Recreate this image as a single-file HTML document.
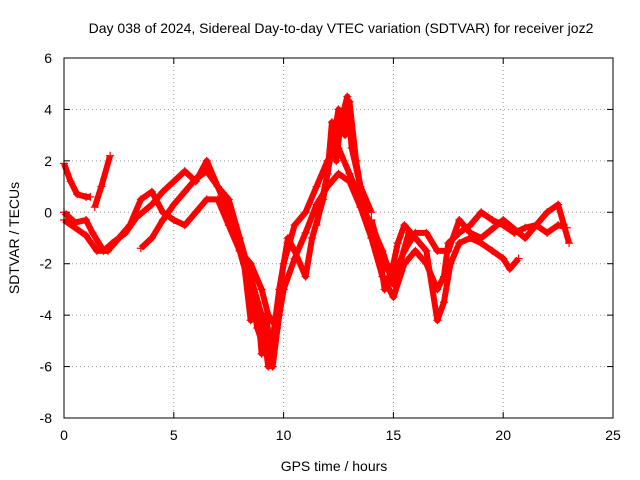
<!DOCTYPE html>
<html><head><meta charset="utf-8"><style>
body{margin:0;background:#fff;}
svg{display:block;font-family:"Liberation Sans",sans-serif;}
</style></head><body>
<svg id="chart" width="640" height="480">
<text x="341" y="33" font-size="14" text-anchor="middle">Day 038 of 2024, Sidereal Day-to-day VTEC variation (SDTVAR) for receiver joz2</text>
<text x="334" y="471" font-size="14" text-anchor="middle">GPS time / hours</text>
<text transform="translate(19,238) rotate(-90)" font-size="14" text-anchor="middle">SDTVAR / TECUs</text>
<g id="grid"></g>
<g id="ticks"></g>
<g id="series"></g>
<rect x="64" y="58" width="549" height="360" fill="none" stroke="#000" stroke-width="1"/>
</svg>
<script>
const xTicks=[0,5,10,15,20,25];
const yTicks=[-8,-6,-4,-2,0,2,4,6];
const trackA=[[0,1.9],[0.3,1.2],[0.6,0.7],[1.0,0.6],[1.2,0.6]];
const trackB=[[1.4,0.2],[1.7,1.0],[2.1,2.2]];
const trackC=[[0,0],[0.5,-0.4],[1,-0.3],[1.3,-0.8],[1.8,-1.5],[2.2,-1.2],[2.8,-0.8],[3.3,-0.2],[4,0.3],[4.5,0.8],[5,1.2],[5.5,1.6],[6,1.2],[6.5,2.0],[7,1.0],[7.5,0.5],[8,-1],[8.5,-2.5],[9,-4],[9.3,-6],[9.6,-4.5],[10,-2],[10.5,-0.5],[11,0],[11.5,1],[12,2],[12.5,2.5],[13,1.5],[13.5,0.5],[14,-1],[14.5,-2.5],[15,-3.3],[15.5,-2],[16,-1.5],[16.5,-2],[17,-3],[17.3,-2.5],[17.5,-1.2],[18,-0.8],[18.5,-0.5],[19,0],[19.5,-0.3],[20,-0.5],[20.5,-0.8],[21,-0.6],[21.5,-0.5],[22,-0.8],[22.5,-0.5],[22.9,-0.6]];
const trackD=[[0,-0.3],[1,-0.9],[1.5,-1.5],[2,-1.5],[2.5,-1],[3,-0.5],[3.5,0.5],[4,0.8],[4.5,0],[5,-0.3],[5.5,-0.5],[6,0],[6.5,0.5],[7,0.5],[7.5,-0.5],[8,-1.5],[8.5,-3],[8.8,-4.5],[9.2,-5.5],[9.5,-5],[9.8,-3],[10.2,-1],[10.5,-1.5],[11,-2.5],[11.3,-1],[11.8,0.5],[12.3,3],[12.5,4],[12.8,3],[13,4.3],[13.3,2],[13.7,0],[14,-0.5],[14.5,-1.5],[15,-2.8],[15.3,-2],[15.7,-0.8],[16,-1],[16.5,-1.5],[17,-4.2],[17.3,-3.5],[17.6,-2],[18,-1.2],[18.5,-1],[19,-1.2],[19.5,-1.5],[20,-1.8],[20.3,-2.2],[20.7,-1.8]];
const trackE=[[3.5,-1.4],[4,-1],[4.5,-0.3],[5,0.3],[5.5,0.8],[6,1.3],[6.5,1.6],[7,1],[7.5,0],[8,-1.5],[8.5,-2],[9,-3],[9.3,-4],[9.7,-4.5],[10,-3],[10.5,-1.8],[11,-0.8],[11.5,0.3],[12,1],[12.5,1.5],[13,1.2],[13.5,0.2],[14,-1],[14.5,-2],[15,-2.5],[15.5,-1.5],[16,-0.8],[16.5,-0.8],[17,-1.5],[17.5,-1.5],[18,-0.3],[18.5,-0.8],[19,-1],[20,-0.3],[21,-1],[22,0],[22.5,0.3],[23,-1.2]];
const trackF=[[7.8,-0.5],[8.2,-2],[8.5,-4.2],[8.8,-3.5],[9,-5.5],[9.2,-4],[9.5,-6],[9.8,-4],[10,-3]];
const trackG=[[11.5,-0.5],[12,1.5],[12.2,3.5],[12.4,2],[12.6,3.5],[12.9,4.5],[13.1,2.5],[13.5,1],[14,0]];
const trackH=[[14,-0.3],[14.3,-1.2],[14.6,-3],[15,-2],[15.2,-1.2],[15.5,-0.5],[16,-1]];
const tracks=[trackA,trackB,trackC,trackD,trackE,trackF,trackG,trackH];
const X0=64,X1=613,Y0=418,Y1=58;
const sx=v=>X0+(v-0)/(25-0)*(X1-X0);
const sy=v=>Y0-(v+8)/(14)*(Y0-Y1);
const NS="http://www.w3.org/2000/svg";
function mk(t,a,p){const e=document.createElementNS(NS,t);for(const k in a)e.setAttribute(k,a[k]);p.appendChild(e);return e;}
const grid=document.getElementById('grid'),ticks=document.getElementById('ticks'),ser=document.getElementById('series');
xTicks.forEach(t=>{const x=sx(t);
 if(t>0&&t<25){const g=mk('line',{x1:x,x2:x,y1:Y1,y2:Y0,stroke:'#999','stroke-dasharray':'1,3'},grid);}
 mk('line',{x1:x,x2:x,y1:Y0,y2:Y0-6,stroke:'#000'},ticks);mk('line',{x1:x,x2:x,y1:Y1,y2:Y1+6,stroke:'#000'},ticks);
 const l=mk('text',{x:x,y:Y0+22,'font-size':14,'text-anchor':'middle'},ticks);l.textContent=t;
 });
yTicks.forEach(t=>{const y=sy(t);
 if(t>-8&&t<6){const g=mk('line',{x1:X0,x2:X1,y1:y,y2:y,stroke:'#999','stroke-dasharray':'1,3'},grid);}
 mk('line',{x1:X0,x2:X0+6,y1:y,y2:y,stroke:'#000'},ticks);mk('line',{x1:X1,x2:X1-6,y1:y,y2:y,stroke:'#000'},ticks);
 const l=mk('text',{x:X0-12,y:y+5,'font-size':14,'text-anchor':'end'},ticks);l.textContent=t;
 });
tracks.forEach((tr,i)=>{
 const pl=mk('polyline',{points:tr.map(p=>sx(p[0])+','+sy(p[1])).join(' '),fill:'none',stroke:'#f00','stroke-width':6,'stroke-linejoin':'round'},ser);
 
 
 tr.forEach(p=>{const x=sx(p[0]),y=sy(p[1]);
  const m=mk('path',{d:`M${x-4},${y}H${x+4}M${x},${y-4}V${y+4}`,stroke:'#f00','stroke-width':1.2},ser);
  
  });
});
</script>
</body></html>
